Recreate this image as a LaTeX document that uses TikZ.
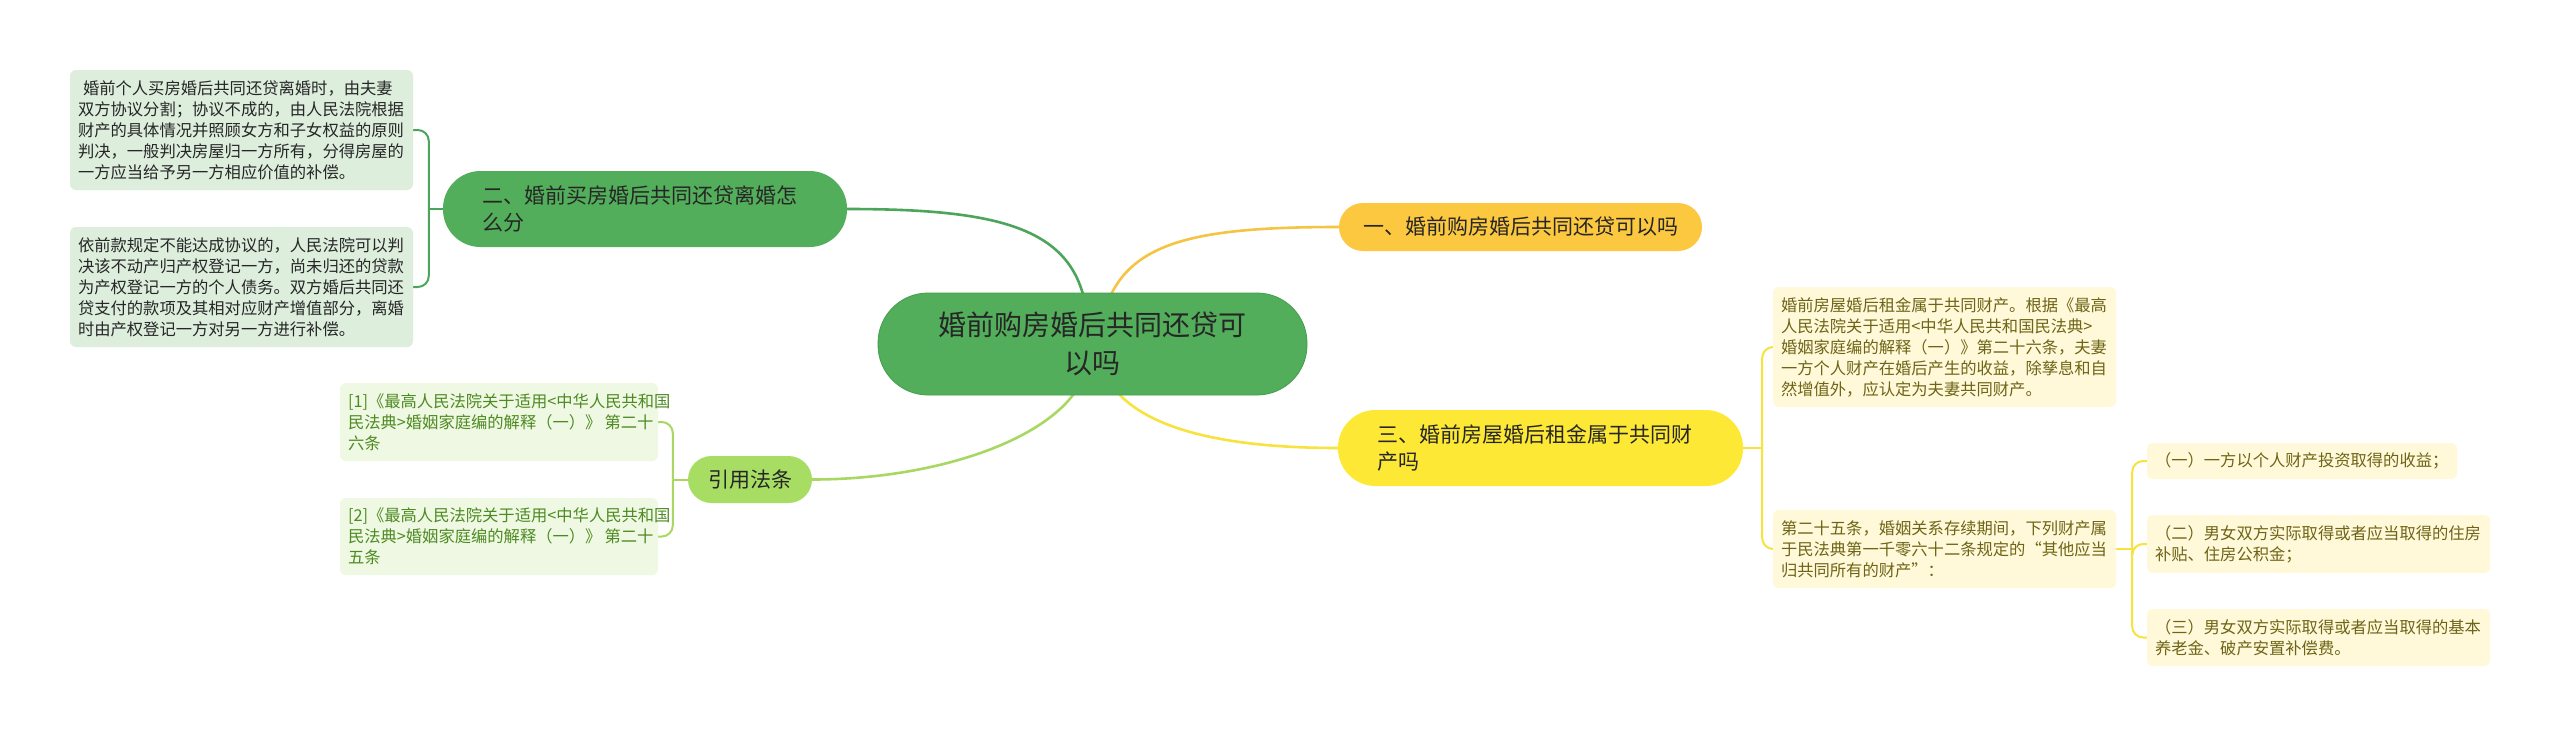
\documentclass[tikz,border=0pt]{standalone}
\usepackage{fontspec}
\newfontfamily\cjk{Noto Sans CJK SC}
\usetikzlibrary{calc}
\definecolor{rootg}{HTML}{52AE5A}
\definecolor{rootd}{HTML}{459E4E}
\definecolor{gline}{HTML}{4CA55A}
\definecolor{oneY}{HTML}{FCC840}
\definecolor{oneL}{HTML}{F6C443}
\definecolor{threeY}{HTML}{FDE935}
\definecolor{threeL}{HTML}{F7E23E}
\definecolor{refG}{HTML}{A8DD63}
\definecolor{refL}{HTML}{A9D862}
\definecolor{leafG}{HTML}{DDEEDD}
\definecolor{leafY}{HTML}{FFF9D9}
\definecolor{leafR}{HTML}{EEF8E2}
\definecolor{txtY}{HTML}{6E6417}
\definecolor{txtR}{HTML}{4E8A22}
\definecolor{txtD}{HTML}{262626}
\pgfdeclarelayer{canvas}
\pgfdeclarelayer{background}
\pgfsetlayers{canvas,background,main}
\tikzset{
  rootbox/.style={fill=rootg, draw=rootd, line width=0.8pt, rounded corners=50pt,
    minimum width=429pt, minimum height=102pt, align=center, text=txtD,
    font=\cjk\fontsize{28}{38}\selectfont, inner sep=0pt},
  topicbox/.style={rounded corners=#1, text=txtD, font=\cjk\fontsize{21}{27}\selectfont, inner sep=0pt},
  leafbox/.style={rounded corners=6pt, font=\cjk\fontsize{16.3}{21}\selectfont, align=left,
    inner xsep=8pt, inner ysep=0pt},
  mainline/.style={line width=2.6pt},
  brline/.style={line width=2pt, rounded corners=11pt},
}
\begin{document}
\begin{tikzpicture}[x=1pt,y=-1pt]
\useasboundingbox (0,0) rectangle (2560,737);
\begin{pgfonlayer}{canvas}
\fill[white] (0,0) rectangle (2560,737);
\end{pgfonlayer}

% root
\node[rootbox] (root) at (1092.5,344) {婚前购房婚后共同还贷可\\以吗};

% level-1 topics
\node[topicbox=37.5pt, fill=rootg, minimum height=76pt, text width=326pt, inner xsep=39pt, align=left]
  (n2) at (645,209) {二、婚前买房婚后共同还贷离婚怎\\么分};
\node[topicbox=24pt, fill=oneY, minimum height=48pt, minimum width=363pt, align=center]
  (n1) at (1520.5,227) {一、婚前购房婚后共同还贷可以吗};
\node[topicbox=37.5pt, fill=threeY, minimum height=76pt, text width=327pt, inner xsep=39pt, align=left]
  (n3) at (1540.5,448) {三、婚前房屋婚后租金属于共同财\\产吗};
\node[topicbox=23.5pt, fill=refG, minimum height=47pt, minimum width=124pt, align=center]
  (nr) at (750,479.5) {引用法条};

% leaves of topic 2
\node[leafbox, fill=leafG, text=txtD, text width=327pt, minimum height=120pt]
  (l2a) at (241.5,130) {\hspace{5pt}婚前个人买房婚后共同还贷离婚时，由夫妻\\双方协议分割；协议不成的，由人民法院根据\\财产的具体情况并照顾女方和子女权益的原则\\判决，一般判决房屋归一方所有，分得房屋的\\一方应当给予另一方相应价值的补偿。};
\node[leafbox, fill=leafG, text=txtD, text width=327pt, minimum height=120pt]
  (l2b) at (241.5,287) {依前款规定不能达成协议的，人民法院可以判\\决该不动产归产权登记一方，尚未归还的贷款\\为产权登记一方的个人债务。双方婚后共同还\\贷支付的款项及其相对应财产增值部分，离婚\\时由产权登记一方对另一方进行补偿。};

% references
\node[leafbox, fill=leafR, text=txtR, text width=302pt, minimum height=78pt]
  (r1) at (499,422) {[1]《最高人民法院关于适用<中华人民共和国\\民法典>婚姻家庭编的解释（一）》\kern3pt第二十\\六条};
\node[leafbox, fill=leafR, text=txtR, text width=302pt, minimum height=77pt]
  (r2) at (499,536.5) {[2]《最高人民法院关于适用<中华人民共和国\\民法典>婚姻家庭编的解释（一）》\kern3pt第二十\\五条};

% leaves of topic 3
\node[leafbox, fill=leafY, text=txtY, text width=327pt, minimum height=120pt]
  (l3a) at (1944.5,347) {婚前房屋婚后租金属于共同财产。根据《最高\\人民法院关于适用<中华人民共和国民法典>\\婚姻家庭编的解释（一）》第二十六条，夫妻\\一方个人财产在婚后产生的收益，除孳息和自\\然增值外，应认定为夫妻共同财产。};
\node[leafbox, fill=leafY, text=txtY, text width=327pt, minimum height=78pt]
  (l3b) at (1944.5,549) {第二十五条，婚姻关系存续期间，下列财产属\\于民法典第一千零六十二条规定的“其他应当\\归共同所有的财产”：};

\node[leafbox, fill=leafY, text=txtY, text width=294pt, minimum height=36pt]
  (k1) at (2302,461) {（一）一方以个人财产投资取得的收益；};
\node[leafbox, fill=leafY, text=txtY, text width=327pt, minimum height=58pt]
  (k2) at (2318.5,544) {（二）男女双方实际取得或者应当取得的住房\\补贴、住房公积金；};
\node[leafbox, fill=leafY, text=txtY, text width=327pt, minimum height=57pt]
  (k3) at (2318.5,637.5) {（三）男女双方实际取得或者应当取得的基本\\养老金、破产安置补偿费。};

\begin{pgfonlayer}{background}
  % main curves from root
  \draw[mainline, gline] ([shift={(-4.5,-14)}]root.center) .. controls (1085,230) and (1010,209) .. (n2.east);
  \draw[mainline, oneL] ([shift={(7.5,-14)}]root.center) .. controls (1115,245) and (1180,227) .. (n1.west);
  \draw[mainline, threeL] ([shift={(7.5,16)}]root.center) .. controls (1115,420) and (1200,448) .. (n3.west);
  \draw[mainline, refL] ([shift={(-4.5,16)}]root.center) .. controls (1080,430) and (950,479.5) .. (nr.east);

  % bracket for topic 2
  \coordinate (b2) at ($(n2.west)+(-14,0)$);
  \draw[line width=2pt, gline] (n2.west) -- (b2);
  \draw[brline, gline] (b2) |- (l2a.east);
  \draw[brline, gline] (b2) |- (l2b.east);

  % bracket for references
  \coordinate (br) at ($(nr.west)+(-15,0)$);
  \draw[line width=2pt, refL] (nr.west) -- (br);
  \draw[brline, refL] (br) |- (r1.east);
  \draw[brline, refL] (br) |- (r2.east);

  % bracket for topic 3
  \coordinate (b3) at ($(n3.east)+(19,0)$);
  \draw[line width=2pt, threeL] (n3.east) -- (b3);
  \draw[brline, threeL] (b3) |- (l3a.west);
  \draw[brline, threeL] (b3) |- (l3b.west);

  % bracket for article 25
  \coordinate (bk) at ($(l3b.east)+(16,0)$);
  \draw[line width=2pt, threeL] (l3b.east) -- (bk);
  \draw[brline, threeL] (bk) |- (k1.west);
  \draw[brline, threeL] (bk) |- (k2.west);
  \draw[brline, threeL] (bk) |- (k3.west);
\end{pgfonlayer}
\end{tikzpicture}
\end{document}
